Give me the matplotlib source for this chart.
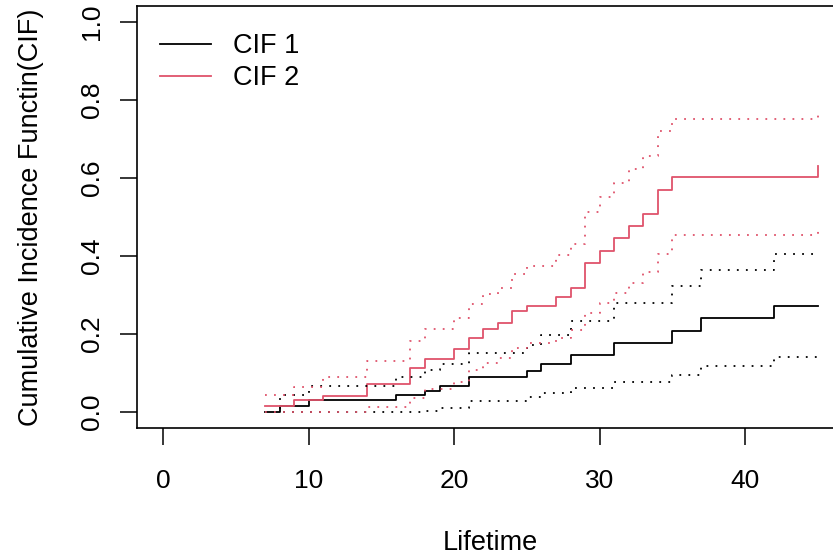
import numpy as np
import matplotlib
matplotlib.use("Agg")
from matplotlib import pyplot as plt

plt.rcParams['font.family'] = ['Liberation Sans', 'DejaVu Sans']

# CIF 1 (black) - event times and estimates, with pointwise bands
t1 = [7, 8, 10, 16, 18, 19, 21, 25, 26, 28, 31, 35, 37, 42, 45]
cif1 = [0, 0.0144, 0.030, 0.043, 0.055, 0.067, 0.090, 0.105, 0.124, 0.147, 0.177, 0.208, 0.241, 0.273, 0.273]
up1 = [0, 0.044, 0.067, 0.091, 0.108, 0.123, 0.152, 0.173, 0.198, 0.233, 0.280, 0.324, 0.365, 0.406, 0.406]
lo1 = [0, 0, 0, 0, 0.003, 0.010, 0.027, 0.038, 0.049, 0.061, 0.076, 0.096, 0.117, 0.141, 0.141]

# CIF 2 (red)
t2 = [7, 9, 11, 14, 17, 18, 20, 21, 22, 23, 24, 25, 27, 28, 29, 30, 31, 32, 33, 34, 35, 45]
cif2 = [0.0144, 0.030, 0.041, 0.073, 0.112, 0.137, 0.161, 0.190, 0.212, 0.229, 0.258, 0.273,
        0.294, 0.318, 0.383, 0.412, 0.445, 0.476, 0.508, 0.570, 0.603, 0.632]
up2 = [0.043, 0.064, 0.091, 0.132, 0.181, 0.214, 0.241, 0.278, 0.303, 0.319, 0.354, 0.375,
       0.403, 0.431, 0.513, 0.551, 0.587, 0.623, 0.657, 0.721, 0.752, 0.775]
lo2 = [0, 0, 0, 0.013, 0.035, 0.058, 0.078, 0.108, 0.126, 0.138, 0.164, 0.177,
       0.190, 0.210, 0.254, 0.280, 0.305, 0.331, 0.360, 0.405, 0.455, 0.478]

xticks = [0, 10, 20, 30, 40]
yticks = [0.0, 0.2, 0.4, 0.6, 0.8, 1.0]

col1 = 'black'
col2 = '#DF536B'
fs = 19.5      # labels / legend
fs_tick = 19
lw = 1.3
dots = (0, (1, 4))

W, H = 833, 556
fig = plt.figure(figsize=(W/100, H/100), dpi=100)
# plot region runs past the right edge, like the cropped original
ax = fig.add_axes([137/W, (H-427.6)/H, (844-137)/W, (427.6-6.4)/H])

ax.step(t1, cif1, where='post', color=col1, lw=lw, label='CIF 1')
ax.step(t2, cif2, where='post', color=col2, lw=lw, label='CIF 2')
ax.step(t1, up1, where='post', color=col1, lw=lw, ls=dots)
ax.step(t1, lo1, where='post', color=col1, lw=lw, ls=dots)
ax.step(t2, up2, where='post', color=col2, lw=lw, ls=dots)
ax.step(t2, lo2, where='post', color=col2, lw=lw, ls=dots)

ax.set_xlim(-1.8, 46.8)
ax.set_ylim(-0.04, 1.04)
ax.set_xticks(xticks)
ax.set_yticks(yticks)
ax.set_yticklabels(['%.1f' % v for v in yticks], rotation=90, va='center')
ax.tick_params(axis='both', labelsize=fs_tick, length=12, width=1.1, color='black')
ax.tick_params(axis='x', pad=18)
ax.tick_params(axis='y', pad=11.5)
for s in ax.spines.values():
    s.set_linewidth(1.2)

ax.set_xlabel('Lifetime', fontsize=fs, labelpad=26.5)
ax.set_ylabel('Cumulative Incidence Functin(CIF)', fontsize=fs, labelpad=26)

ax.legend(loc='upper left', bbox_to_anchor=(0.0325, 0.936), frameon=False, fontsize=fs,
          handlelength=1.87, handletextpad=0.83, labelspacing=0.22, borderpad=0, borderaxespad=0)

fig.savefig('out.png', dpi=100)
